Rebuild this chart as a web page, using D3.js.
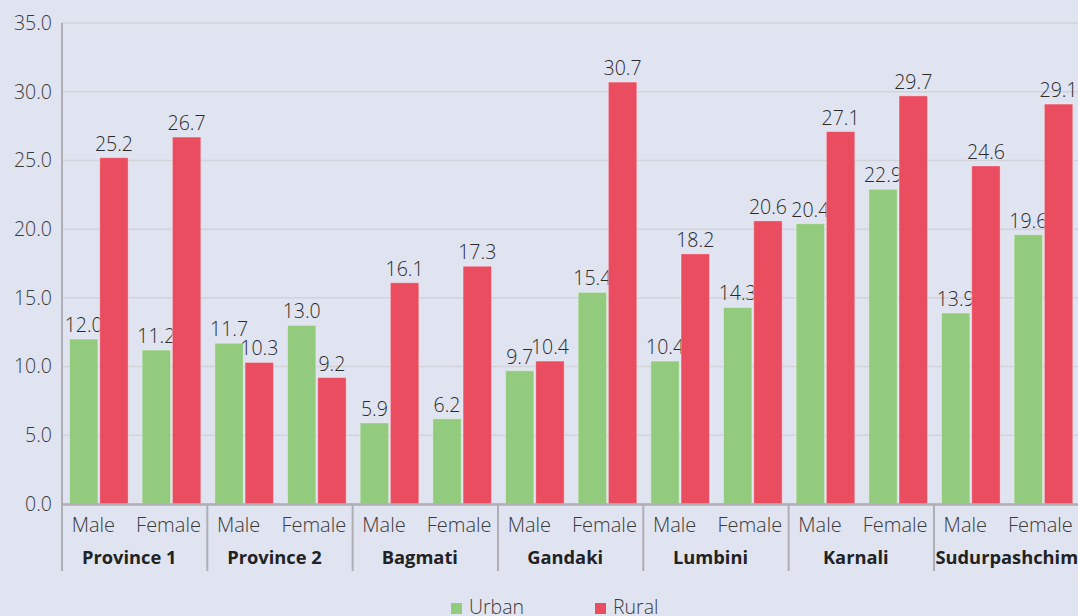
<!DOCTYPE html>
<html><head><meta charset="utf-8">
<script src="https://cdn.jsdelivr.net/npm/d3@7/dist/d3.min.js"></script>
<style>
html,body{margin:0;padding:0;background:#e0e3f0;overflow:hidden;}
text{font-family:"Open Sans",sans-serif;}
</style></head>
<body><svg id="c" width="1078" height="616"></svg>
<script>
const provinces = ["Province 1","Province 2","Bagmati","Gandaki","Lumbini","Karnali","Sudurpashchim"];
const sexes = ["Male","Female"];
const series = ["Urban","Rural"];
const urbanMale   = [12.0, 11.7, 5.9, 9.7, 10.4, 20.4, 13.9];
const urbanFemale = [11.2, 13.0, 6.2, 15.4, 14.3, 22.9, 19.6];
const ruralMale   = [25.2, 10.3, 16.1, 10.4, 18.2, 27.1, 24.6];
const ruralFemale = [26.7, 9.2, 17.3, 30.7, 20.6, 29.7, 29.1];
const yTicks = [0,5,10,15,20,25,30,35];
const colors = {Urban:"#93cb7e", Rural:"#ea4c60"};

const rows = [];
provinces.forEach((p,i)=>{
  sexes.forEach(s=>{
    const u = s==="Male"?urbanMale[i]:urbanFemale[i];
    const r = s==="Male"?ruralMale[i]:ruralFemale[i];
    rows.push({p, s, key:p+"|"+s, Urban:u, Rural:r});
  });
});

const svg = d3.select("#c");
const pLeft = 62, pRight = 1079.3, pTop = 23, pBottom = 504;
const y = d3.scaleLinear().domain([0,35]).range([pBottom, pTop]);
const x0 = d3.scaleBand().domain(provinces).range([pLeft,pRight]);
const x1 = d3.scaleBand().domain(sexes).range([0, x0.bandwidth()]);
const x2 = d3.scaleBand().domain(series).range([7.5, x1.bandwidth()-6.5]).paddingInner(0.06);
const fs = 19.5;
const sexShift = {Male:-5, Female:-2.5};

// grid
svg.append("g").selectAll("line").data(yTicks).join("line")
  .attr("x1",pLeft).attr("x2",1078).attr("y1",d=>y(d)).attr("y2",d=>y(d))
  .attr("stroke","#d2d3d9").attr("stroke-width",1.5);

// y labels
svg.append("g").selectAll("text").data(yTicks).join("text")
  .attr("x",52).attr("y",d=>y(d)).attr("dy","0.35em").attr("text-anchor","end")
  .attr("font-size",fs).attr("font-weight",300).attr("fill","#3a3a3a").text(d=>d.toFixed(1));

// bars
const g = svg.append("g");
rows.forEach(r=>{
  const bx = x0(r.p)+x1(r.s);
  series.forEach(sr=>{
    g.append("rect").attr("x",bx+x2(sr)).attr("y",y(r[sr]))
      .attr("width",x2.bandwidth()).attr("height",pBottom-y(r[sr]))
      .attr("fill",colors[sr]).attr("stroke","rgba(255,255,255,0.35)").attr("stroke-width",1);
    g.append("text").attr("x",bx+x2(sr)+x2.bandwidth()/2).attr("y",y(r[sr])-7)
      .attr("text-anchor","middle").attr("font-size",fs).attr("font-weight",300).attr("fill","#2a2a2a")
      .text(r[sr].toFixed(1));
  });
});

// axes lines
svg.append("line").attr("x1",pLeft).attr("x2",1078).attr("y1",pBottom+0.5).attr("y2",pBottom+0.5)
  .attr("stroke","#aeaeb4").attr("stroke-width",2.5);
svg.append("line").attr("x1",pLeft).attr("x2",pLeft).attr("y1",pTop).attr("y2",571)
  .attr("stroke","#aeaeb4").attr("stroke-width",2);
provinces.forEach((p,i)=>{
  if(i>0) svg.append("line").attr("x1",x0(p)).attr("x2",x0(p)).attr("y1",pBottom).attr("y2",571)
    .attr("stroke","#aeaeb4").attr("stroke-width",2);
});

// sex labels
svg.append("g").selectAll("text").data(rows).join("text")
  .attr("x",d=>x0(d.p)+x1(d.s)+x1.bandwidth()/2+sexShift[d.s]).attr("y",525).attr("dy","0.35em")
  .attr("text-anchor","middle").attr("font-size",20).attr("font-weight",300).attr("fill","#3a3a3a").text(d=>d.s);

// province labels (keep left edge right of the separator)
svg.append("g").selectAll("text").data(provinces).join("text")
  .attr("y",558).attr("dy","0.35em")
  .attr("font-size",18.3).attr("font-weight","bold").attr("fill","#222").text(d=>d)
  .each(function(d){
    const w = this.getComputedTextLength();
    const cx = x0(d)+x0.bandwidth()/2-5.5;
    const lx = Math.max(cx - w/2, x0(d)+1.5);
    d3.select(this).attr("x", lx);
  });

// legend
const lg = svg.append("g");
const lx = {Urban:451, Rural:595};
series.forEach(s=>{
  lg.append("rect").attr("x",lx[s]).attr("y",603).attr("width",11).attr("height",11).attr("fill",colors[s]);
  lg.append("text").attr("x",lx[s]+18).attr("y",607).attr("dy","0.35em").attr("font-size",fs).attr("font-weight",300).attr("fill","#3a3a3a").text(s);
});
</script></body></html>
